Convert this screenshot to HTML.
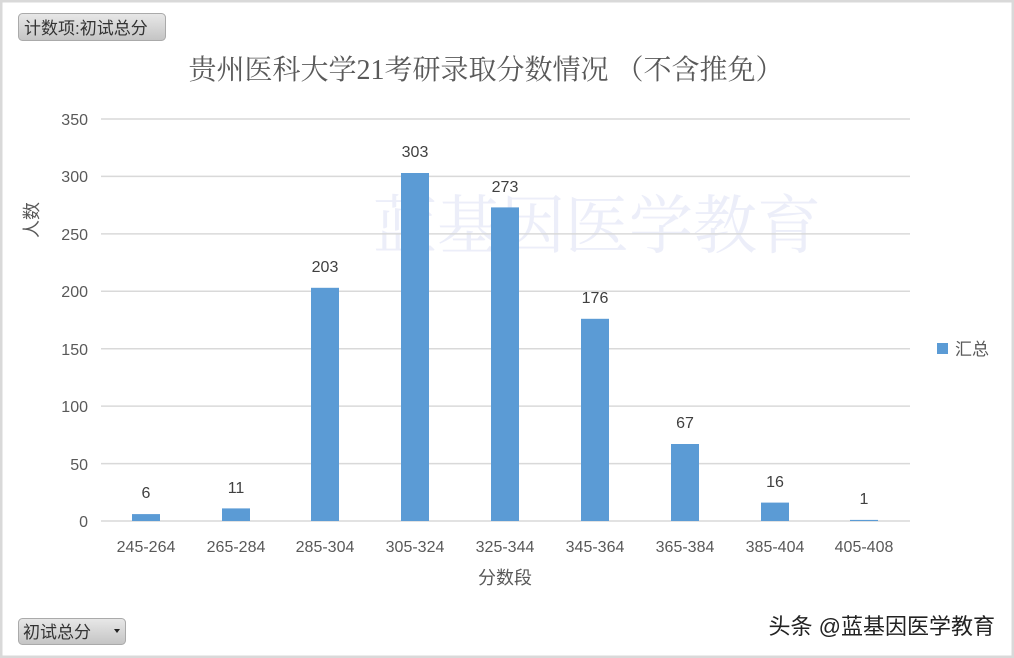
<!DOCTYPE html>
<html><head><meta charset="utf-8"><style>
html,body{margin:0;padding:0;background:#fff}
svg{display:block}
text{font-family:"Liberation Sans","Noto Sans CJK SC",sans-serif}
</style></head><body>
<svg width="1014" height="658" viewBox="0 0 1014 658" xmlns="http://www.w3.org/2000/svg">
<rect x="1" y="1" width="1012" height="656" fill="#fff" stroke="#d9d9d9" stroke-width="3"/>
<defs><linearGradient id="g" x1="0" y1="0" x2="0" y2="1"><stop offset="0" stop-color="#e8e8e8"/><stop offset="1" stop-color="#c4c4c4"/></linearGradient></defs>
<rect x="18.5" y="13.5" width="147" height="27" rx="4" fill="url(#g)" stroke="#aaa"/>
<text x="24" y="34" font-size="17" fill="#333">计数项:初试总分</text>
<rect x="18.5" y="618.5" width="107" height="26" rx="4" fill="url(#g)" stroke="#aaa"/>
<text x="23" y="638" font-size="17" fill="#333">初试总分</text>
<path d="M114 629 L120 629 L117 633 Z" fill="#222"/>
<text x="486" y="79" font-size="28" fill="#595959" text-anchor="middle" style="font-family:'Liberation Serif','Noto Serif CJK SC',serif">贵州医科大学21考研录取分数情况 （不含推免）</text>
<text x="597" y="248" font-size="64" fill="#dfe3f5" fill-opacity="0.6" text-anchor="middle" style="font-family:'Liberation Serif','Noto Serif CJK SC',serif">蓝基因医学教育</text>
<g stroke="#d9d9d9" stroke-width="1.5">
<line x1="101" y1="119" x2="910" y2="119"/><line x1="101" y1="176.4" x2="910" y2="176.4"/>
<line x1="101" y1="233.9" x2="910" y2="233.9"/><line x1="101" y1="291.3" x2="910" y2="291.3"/>
<line x1="101" y1="348.7" x2="910" y2="348.7"/><line x1="101" y1="406.1" x2="910" y2="406.1"/>
<line x1="101" y1="463.6" x2="910" y2="463.6"/><line x1="101" y1="521" x2="910" y2="521"/>
</g>
<g font-size="16" fill="#595959" text-anchor="end">
<text x="88" y="125">350</text><text x="88" y="182">300</text><text x="88" y="240">250</text>
<text x="88" y="297">200</text><text x="88" y="355">150</text><text x="88" y="412">100</text>
<text x="88" y="470">50</text><text x="88" y="527">0</text>
</g>
<text transform="translate(38,220) rotate(-90)" font-size="18" fill="#595959" text-anchor="middle">人数</text>
<g fill="#5b9bd5">
<rect x="132" y="514.1" width="28" height="6.9"/>
<rect x="222" y="508.4" width="28" height="12.6"/>
<rect x="311" y="287.8" width="28" height="233.2"/>
<rect x="401" y="173" width="28" height="348"/>
<rect x="491" y="207.4" width="28" height="313.6"/>
<rect x="581" y="318.8" width="28" height="202.2"/>
<rect x="671" y="444" width="28" height="77"/>
<rect x="761" y="502.6" width="28" height="18.4"/>
<rect x="850" y="519.9" width="28" height="1.1"/>
</g>
<g font-size="16" fill="#404040" text-anchor="middle">
<text x="146" y="498">6</text><text x="236" y="493">11</text><text x="325" y="272">203</text>
<text x="415" y="157">303</text><text x="505" y="192">273</text><text x="595" y="303">176</text>
<text x="685" y="428">67</text><text x="775" y="487">16</text><text x="864" y="504">1</text>
</g>
<g font-size="16" fill="#595959" text-anchor="middle">
<text x="146" y="552">245-264</text><text x="236" y="552">265-284</text><text x="325" y="552">285-304</text>
<text x="415" y="552">305-324</text><text x="505" y="552">325-344</text><text x="595" y="552">345-364</text>
<text x="685" y="552">365-384</text><text x="775" y="552">385-404</text><text x="864" y="552">405-408</text>
</g>
<text x="505" y="584" font-size="18" fill="#595959" text-anchor="middle">分数段</text>
<rect x="937" y="343" width="11" height="11" fill="#5b9bd5"/>
<text x="955" y="355" font-size="17" fill="#595959">汇总</text>
<text x="995" y="634" font-size="22" fill="#222" text-anchor="end">头条 @蓝基因医学教育</text>
</svg>
</body></html>
